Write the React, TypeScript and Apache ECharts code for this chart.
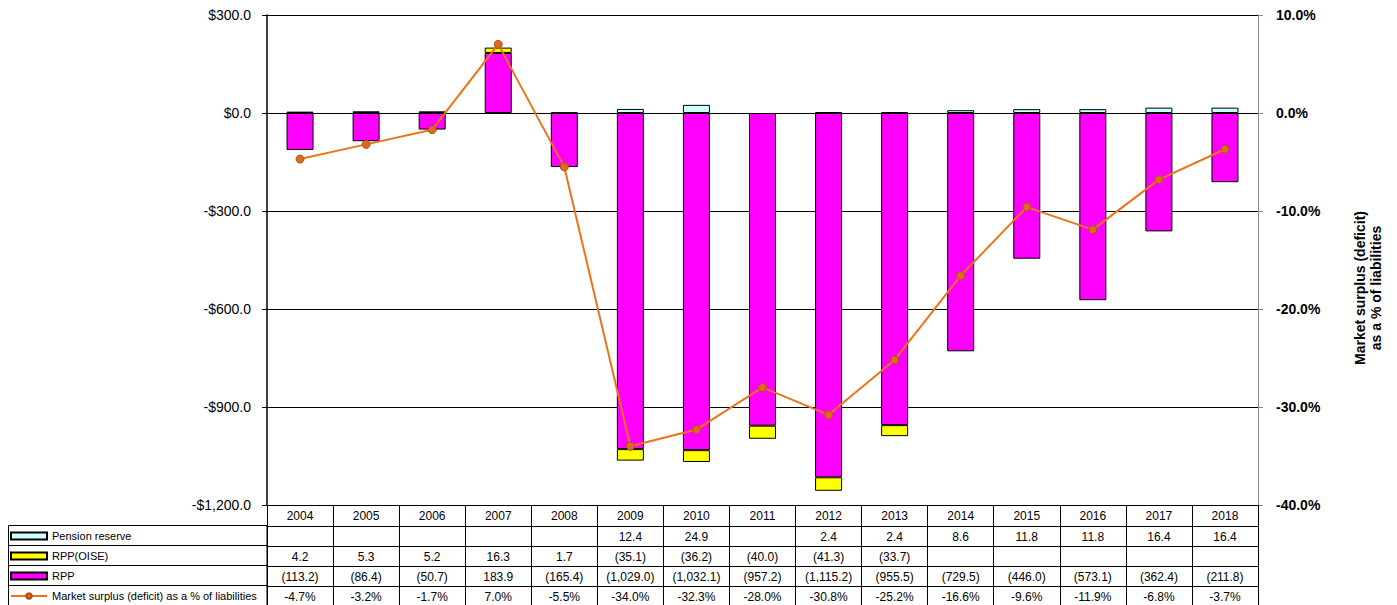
import React, { useEffect, useRef } from "react";
import * as echarts from "echarts";

const years = ["2004", "2005", "2006", "2007", "2008", "2009", "2010", "2011", "2012", "2013", "2014", "2015", "2016", "2017", "2018"];
const pensionReserve: (number | null)[] = [null, null, null, null, null, 12.4, 24.9, null, 2.4, 2.4, 8.6, 11.8, 11.8, 16.4, 16.4];
const rppOise: (number | null)[] = [4.2, 5.3, 5.2, 16.3, 1.7, -35.1, -36.2, -40.0, -41.3, -33.7, null, null, null, null, null];
const rpp: number[] = [-113.2, -86.4, -50.7, 183.9, -165.4, -1029.0, -1032.1, -957.2, -1115.2, -955.5, -729.5, -446.0, -573.1, -362.4, -211.8];
const surplusPct: number[] = [-4.7, -3.2, -1.7, 7.0, -5.5, -34.0, -32.3, -28.0, -30.8, -25.2, -16.6, -9.6, -11.9, -6.8, -3.7];

const SERIES_NAMES = ["Pension reserve", "RPP(OISE)", "RPP", "Market surplus (deficit) as a % of liabilities"];

const FONT = "'Liberation Sans', Arial, sans-serif";
const BOLD_FONT = "'Liberation Sans', Arial, sans-serif";

function fmtAbs(v: number): string {
  return Math.abs(v).toLocaleString("en-US", { minimumFractionDigits: 1, maximumFractionDigits: 1 });
}
function fmtNum(v: number | null): string {
  if (v === null || v === undefined) return "";
  return v < 0 ? `(${fmtAbs(v)})` : fmtAbs(v);
}
function fmtPct(v: number): string {
  return v.toFixed(1) + "%";
}
function fmtMoney(v: number): string {
  return (v < 0 ? "-$" : "$") + fmtAbs(v);
}

const rowPension = pensionReserve.map(fmtNum);
const rowOise = rppOise.map(fmtNum);
const rowRpp = rpp.map(fmtNum);
const rowPct = surplusPct.map(fmtPct);

function tableAxis(offset: number, labels: string[]) {
  return {
    type: "category",
    gridIndex: 0,
    position: "bottom",
    offset,
    data: years,
    boundaryGap: true,
    axisLine: { show: true, onZero: false, lineStyle: { color: "#000", width: 1 } },
    axisTick: { show: true, length: 21, interval: 0, alignWithLabel: false, lineStyle: { color: "#000", width: 1 } },
    axisLabel: {
      show: true,
      interval: 0,
      margin: 5,
      fontSize: 12,
      color: "#000",
      fontFamily: FONT,
      formatter: (_v: string, i: number) => labels[i],
    },
    splitLine: { show: false },
    axisPointer: { show: false },
  };
}

export default function App() {
  const ref = useRef<HTMLDivElement>(null);

  useEffect(() => {
    if (!ref.current) return;
    const chart = echarts.init(ref.current, undefined, { renderer: "svg" });
    const barBorder = { borderColor: "#000", borderWidth: 1 };
    const option = {
      animation: false,
      backgroundColor: "#fff",
      textStyle: { fontFamily: FONT },
      grid: { left: 267, right: 139, top: 15, bottom: 100, containLabel: false },
      legend: {
        orient: "vertical",
        left: 10,
        top: 530,
        padding: 0,
        itemGap: 8,
        itemWidth: 36,
        itemHeight: 7,
        selectedMode: false,
        textStyle: { fontSize: 11, color: "#000", fontFamily: FONT, lineHeight: 12 },
        data: [
          { name: SERIES_NAMES[0], icon: "rect" },
          { name: SERIES_NAMES[1], icon: "rect" },
          { name: SERIES_NAMES[2], icon: "rect" },
          { name: SERIES_NAMES[3] },
        ],
      },
      xAxis: [
        tableAxis(0, years),
        tableAxis(21, rowPension),
        tableAxis(41, rowOise),
        tableAxis(61, rowRpp),
        tableAxis(81, rowPct),
      ],
      yAxis: [
        {
          type: "value",
          min: -1200,
          max: 300,
          interval: 300,
          position: "left",
          axisLine: { show: true, lineStyle: { color: "#000", width: 1.5 } },
          axisTick: { show: true, length: 5, lineStyle: { color: "#000" } },
          axisLabel: { margin: 16, fontSize: 14, color: "#000", fontFamily: FONT, formatter: fmtMoney },
          splitLine: { show: true, lineStyle: { color: "#000", width: 1 } },
        },
        {
          type: "value",
          min: -40,
          max: 10,
          interval: 10,
          position: "right",
          axisLine: { show: true, lineStyle: { color: "#8c8c8c", width: 1 } },
          axisTick: { show: true, length: 5, lineStyle: { color: "#8c8c8c" } },
          axisLabel: { margin: 18, fontSize: 14, fontWeight: "bold", color: "#000", fontFamily: BOLD_FONT, formatter: fmtPct },
          splitLine: { show: false },
        },
      ],
      graphic: [
        {
          type: "rect",
          shape: { x: 8.5, y: 525.5, width: 258.5, height: 82 },
          style: { fill: "none", stroke: "#000", lineWidth: 1 },
          silent: true,
        },
        { type: "line", shape: { x1: 8.5, y1: 545.5, x2: 267, y2: 545.5 }, style: { stroke: "#000", lineWidth: 1 }, silent: true },
        { type: "line", shape: { x1: 8.5, y1: 565.5, x2: 267, y2: 565.5 }, style: { stroke: "#000", lineWidth: 1 }, silent: true },
        { type: "line", shape: { x1: 8.5, y1: 585.5, x2: 267, y2: 585.5 }, style: { stroke: "#000", lineWidth: 1 }, silent: true },
        {
          type: "text",
          x: 1368,
          y: 288,
          rotation: Math.PI / 2,
          style: {
            text: "Market surplus (deficit)\nas a % of liabilities",
            fontSize: 14,
            fontWeight: "bold",
            fontFamily: BOLD_FONT,
            fill: "#000",
            align: "center",
            verticalAlign: "middle",
            lineHeight: 16,
          },
        },
      ],
      series: [
        {
          name: SERIES_NAMES[2],
          type: "bar",
          stack: "total",
          xAxisIndex: 0,
          yAxisIndex: 0,
          barWidth: 27,
          data: rpp,
          itemStyle: { color: "#FF00FF", ...barBorder },
        },
        {
          name: SERIES_NAMES[1],
          type: "bar",
          stack: "total",
          xAxisIndex: 0,
          yAxisIndex: 0,
          barWidth: 27,
          data: rppOise,
          itemStyle: { color: "#FFFF00", ...barBorder },
        },
        {
          name: SERIES_NAMES[0],
          type: "bar",
          stack: "total",
          xAxisIndex: 0,
          yAxisIndex: 0,
          barWidth: 27,
          data: pensionReserve,
          itemStyle: { color: "#CCFFFF", ...barBorder },
        },
        {
          name: SERIES_NAMES[3],
          type: "line",
          xAxisIndex: 0,
          yAxisIndex: 1,
          data: surplusPct,
          symbol: "circle",
          symbolSize: 8,
          lineStyle: { color: "#EE7318", width: 2 },
          itemStyle: { color: "#E06A1C", borderColor: "#A8501E", borderWidth: 1 },
          z: 5,
        },
      ],
    };
    chart.setOption(option as any);
    return () => chart.dispose();
  }, []);

  return (
    <div
      ref={ref}
      style={{ position: "fixed", left: 0, top: 0, width: 1397, height: 605, background: "#fff" }}
    />
  );
}
